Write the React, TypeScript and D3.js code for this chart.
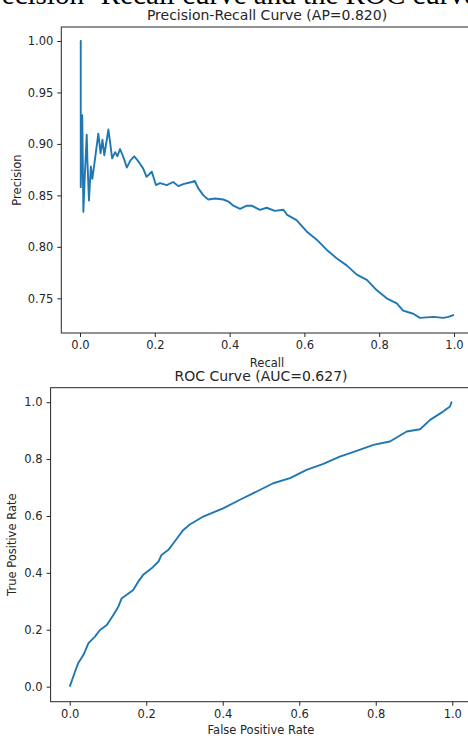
import React, { useEffect, useRef } from 'react';
import * as d3 from 'd3';

// Precision-Recall curve
const prRecall = [0, 0.002, 0.002, 0.006, 0.009, 0.013, 0.018, 0.020, 0.024, 0.029, 0.033, 0.040, 0.049, 0.055, 0.060, 0.065, 0.076, 0.086, 0.094, 0.100, 0.107, 0.114, 0.120, 0.125, 0.135, 0.145, 0.156, 0.160, 0.169, 0.178, 0.192, 0.203, 0.214, 0.232, 0.249, 0.263, 0.276, 0.299, 0.307, 0.316, 0.330, 0.343, 0.361, 0.383, 0.397, 0.410, 0.428, 0.446, 0.459, 0.481, 0.499, 0.521, 0.544, 0.554, 0.579, 0.606, 0.633, 0.660, 0.686, 0.713, 0.740, 0.767, 0.793, 0.820, 0.847, 0.864, 0.891, 0.909, 0.945, 0.971, 0.985, 1.0];
const prPrecision = [1.0, 1.0, 0.858, 0.928, 0.834, 0.870, 0.909, 0.882, 0.845, 0.878, 0.866, 0.885, 0.910, 0.891, 0.904, 0.889, 0.914, 0.886, 0.892, 0.888, 0.895, 0.889, 0.883, 0.877, 0.884, 0.888, 0.883, 0.881, 0.876, 0.868, 0.873, 0.860, 0.862, 0.860, 0.863, 0.859, 0.861, 0.863, 0.864, 0.857, 0.850, 0.846, 0.847, 0.846, 0.844, 0.840, 0.837, 0.840, 0.840, 0.836, 0.838, 0.835, 0.836, 0.831, 0.826, 0.815, 0.807, 0.797, 0.789, 0.782, 0.773, 0.768, 0.758, 0.750, 0.745, 0.738, 0.735, 0.731, 0.732, 0.731, 0.732, 0.734];

// ROC curve
const rocFpr = [0, 0.014, 0.022, 0.036, 0.049, 0.066, 0.079, 0.097, 0.114, 0.127, 0.136, 0.149, 0.166, 0.179, 0.192, 0.214, 0.232, 0.240, 0.258, 0.271, 0.284, 0.297, 0.314, 0.349, 0.401, 0.445, 0.489, 0.532, 0.576, 0.619, 0.663, 0.706, 0.750, 0.794, 0.837, 0.881, 0.916, 0.942, 0.976, 0.994, 0.998, 1.0];
const rocTpr = [0, 0.053, 0.082, 0.112, 0.153, 0.176, 0.199, 0.217, 0.252, 0.281, 0.311, 0.323, 0.340, 0.369, 0.393, 0.416, 0.440, 0.463, 0.481, 0.504, 0.528, 0.551, 0.570, 0.598, 0.627, 0.657, 0.686, 0.715, 0.733, 0.762, 0.783, 0.809, 0.829, 0.850, 0.862, 0.897, 0.905, 0.938, 0.967, 0.985, 1.0, 1.0];

const prXTicks = [0, 0.2, 0.4, 0.6, 0.8, 1.0];
const prYTicks = [0.75, 0.8, 0.85, 0.9, 0.95, 1.0];
const rocTicks = [0, 0.2, 0.4, 0.6, 0.8, 1.0];

const FONT = 'DejaVu Sans, sans-serif';
const INK = '#262626';
const BLUE = '#1f77b4';

const App = () => {
  const ref = useRef<SVGSVGElement>(null);

  useEffect(() => {
    const svg = d3.select(ref.current);
    svg.selectAll('*').remove();

    // cut-off caption at the very top of the page
    svg.append('text')
      .attr('x', -24).attr('y', 4)
      .attr('font-family', 'Liberation Serif, Times New Roman, serif')
      .attr('font-size', 29)
      .attr('fill', '#000')
      .text('Precision- Recall curve and the ROC curve');

    const panel = (opts) => {
      const { left, right, top, bottom, xDomain, yDomain, xs, ys, xTicks, yTicks, yFmt, title, titleY, xLabel, xLabelY, yLabel, yLabelX } = opts;
      const x = d3.scaleLinear().domain(xDomain).range([left, right]);
      const y = d3.scaleLinear().domain(yDomain).range([bottom, top]);
      const g = svg.append('g');

      const line = d3.line<number>().x((d) => x(d)).y((_, i) => y(ys[i]));
      g.append('path')
        .attr('d', line(xs))
        .attr('fill', 'none')
        .attr('stroke', BLUE)
        .attr('stroke-width', 1.9)
        .attr('stroke-linejoin', 'round');

      g.append('rect')
        .attr('x', left).attr('y', top)
        .attr('width', right - left).attr('height', bottom - top)
        .attr('fill', 'none').attr('stroke', INK).attr('stroke-width', 1);

      const xAxis = g.append('g').attr('transform', `translate(0,${bottom})`)
        .call(d3.axisBottom(x).tickValues(xTicks).tickSize(4).tickPadding(4).tickFormat(d3.format('.1f')));
      const yAxis = g.append('g').attr('transform', `translate(${left},0)`)
        .call(d3.axisLeft(y).tickValues(yTicks).tickSize(4).tickPadding(4).tickFormat(d3.format(yFmt)));
      [xAxis, yAxis].forEach((a) => {
        a.select('.domain').remove();
        a.selectAll('line').attr('stroke', INK);
        a.selectAll('text').attr('fill', INK).attr('font-family', FONT).attr('font-size', 11.5);
      });

      const cx = (left + right) / 2;
      g.append('text').attr('x', cx).attr('y', titleY).attr('text-anchor', 'middle')
        .attr('font-family', FONT).attr('font-size', 14).attr('fill', INK).text(title);
      g.append('text').attr('x', cx).attr('y', xLabelY).attr('text-anchor', 'middle')
        .attr('font-family', FONT).attr('font-size', 11.5).attr('fill', INK).text(xLabel);
      g.append('text')
        .attr('transform', `translate(${yLabelX},${(top + bottom) / 2}) rotate(-90)`)
        .attr('text-anchor', 'middle')
        .attr('font-family', FONT).attr('font-size', 11.5).attr('fill', INK).text(yLabel);
    };

    panel({
      left: 61.3, right: 472.7, top: 27, bottom: 333,
      xDomain: [-0.05, 1.05], yDomain: [0.7163, 1.0136],
      xs: prRecall, ys: prPrecision,
      xTicks: prXTicks, yTicks: prYTicks, yFmt: '.2f',
      title: 'Precision-Recall Curve (AP=0.820)', titleY: 20,
      xLabel: 'Recall', xLabelY: 367,
      yLabel: 'Precision', yLabelX: 21,
    });

    panel({
      left: 50.6, right: 471.4, top: 387.7, bottom: 701.7,
      xDomain: [-0.05, 1.05], yDomain: [-0.053, 1.051],
      xs: rocFpr, ys: rocTpr,
      xTicks: rocTicks, yTicks: rocTicks, yFmt: '.1f',
      title: 'ROC Curve (AUC=0.627)', titleY: 381,
      xLabel: 'False Positive Rate', xLabelY: 734,
      yLabel: 'True Positive Rate', yLabelX: 16,
    });
  }, []);

  return (
    <svg ref={ref} width={468} height={736}
      style={{ position: 'absolute', left: 0, top: 0, background: '#fff', display: 'block' }} />
  );
};

export default App;
